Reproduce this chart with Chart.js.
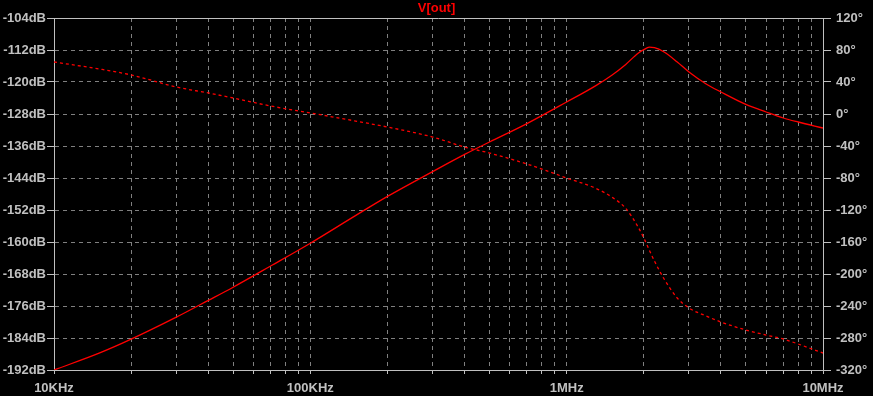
<!DOCTYPE html>
<html>
<head>
<meta charset="utf-8">
<script src="https://cdn.jsdelivr.net/npm/chart.js@4"></script>
<style>
  html, body { margin: 0; padding: 0; background: #000; }
  #wrap { width: 873px; height: 396px; }
</style>
</head>
<body>
<div id="wrap"><canvas id="bode"></canvas></div>
<script>
// Frequency points (Hz)
const freqs = [1e4, 1.5e4, 2e4, 3e4, 4e4, 5e4, 7e4, 1e5, 1.5e5, 2e5, 3e5, 4e5, 5e5, 7e5,
    1e6, 1.3e6, 1.5e6, 1.7e6, 1.9e6, 2e6, 2.1e6, 2.2e6, 2.4e6, 2.7e6, 3e6, 3.5e6, 4e6,
    5e6, 6e6, 7e6, 8e6, 1e7];

// Magnitude of V(out) in dB (solid line, left axis)
const magDb = [-192, -187.8, -184.3, -178.8, -174.6, -171.3, -166, -160.3, -153.4, -148.6,
    -142.4, -138.1, -135, -130.4, -125, -120.9, -118.3, -115.6, -112.8, -111.9, -111.3,
    -111.4, -112.5, -115, -117.5, -120.5, -122.5, -125.6, -127.5, -129, -130, -131.5];

// Phase of V(out) in degrees (dashed line, right axis)
const phaseDeg = [65, 56.3, 48.8, 33.8, 26.3, 20, 10, 1.3, -8.8, -16.3, -28.8, -41.3, -48.8,
    -62.5, -80, -93, -103.8, -118, -141.3, -155, -170, -183.8, -206.3, -230, -242.5,
    -252.5, -260, -270, -276.3, -281.3, -287.5, -298.8];

// Axis labels
const decades = [1e4, 1e5, 1e6, 1e7];
const decadeLabels = ['10KHz', '100KHz', '1MHz', '10MHz'];
const dbRange = [-192, -104];
const degRange = [-320, 120];

const GRID = '#808080';
const AXIS = '#c0c0c0';
const RED = '#ff0000';

Chart.defaults.font.family = '"Liberation Sans", Arial, sans-serif';
Chart.defaults.font.size = 13;
Chart.defaults.font.weight = 'bold';
Chart.defaults.color = AXIS;

// Log grid: 1..9 x each decade
const xTicks = [];
for (let d = 0; d < decades.length - 1; d++) {
    for (let m = 1; m < 10; m++) xTicks.push(decades[d] * m);
}
xTicks.push(decades[decades.length - 1]);

// top edge of the plot frame
const frame = {
    id: 'frame',
    beforeDatasetsDraw(chart) {
        const { ctx, chartArea: a } = chart;
        ctx.save();
        ctx.strokeStyle = AXIS;
        ctx.lineWidth = 1;
        ctx.beginPath();
        ctx.moveTo(a.left, a.top + 0.5);
        ctx.lineTo(a.right, a.top + 0.5);
        ctx.stroke();
        ctx.restore();
    }
};

new Chart(document.getElementById('bode'), {
    type: 'line',
    data: {
        datasets: [{
            label: 'V(out) magnitude',
            data: freqs.map((f, i) => ({ x: f, y: magDb[i] })),
            yAxisID: 'y',
            borderColor: RED,
            borderWidth: 1.3,
            pointRadius: 0,
            cubicInterpolationMode: 'monotone'
        }, {
            label: 'V(out) phase',
            data: freqs.map((f, i) => ({ x: f, y: phaseDeg[i] })),
            yAxisID: 'y1',
            borderColor: RED,
            borderWidth: 1.3,
            borderDash: [3, 3],
            pointRadius: 0,
            cubicInterpolationMode: 'monotone'
        }]
    },
    options: {
        responsive: true,
        maintainAspectRatio: false,
        animation: false,
        layout: { padding: 0 },
        plugins: {
            legend: { display: false },
            tooltip: { enabled: false },
            title: {
                display: true,
                text: 'V[out]',
                color: RED,
                font: { size: 13, weight: 'bold', lineHeight: 1.2 },
                padding: { top: 1, bottom: 1.4 }
            }
        },
        scales: {
            x: {
                type: 'logarithmic',
                min: decades[0],
                max: decades[decades.length - 1],
                afterBuildTicks: (scale) => { scale.ticks = xTicks.map(v => ({ value: v })); },
                afterFit: (scale) => { scale.height = 26; },
                ticks: {
                    autoSkip: false,
                    maxRotation: 0,
                    padding: 7,
                    color: AXIS,
                    callback: (v) => {
                        const i = decades.indexOf(v);
                        return i >= 0 ? decadeLabels[i] : '';
                    }
                },
                grid: { color: GRID, tickColor: AXIS, tickLength: 4, tickBorderDash: [] },
                border: { color: AXIS, dash: [4, 4] }
            },
            y: {
                position: 'left',
                min: dbRange[0],
                max: dbRange[1],
                afterFit: (scale) => { scale.width = 54; },
                ticks: { stepSize: 8, padding: 1, color: AXIS, callback: v => v + 'dB' },
                grid: { color: GRID, tickColor: AXIS, tickLength: 7, tickBorderDash: [] },
                border: { color: AXIS, dash: [4, 4] }
            },
            y1: {
                position: 'right',
                min: degRange[0],
                max: degRange[1],
                afterFit: (scale) => { scale.width = 50; },
                ticks: { stepSize: 40, padding: 5, color: AXIS, callback: v => v + '°' },
                grid: { drawOnChartArea: false, tickColor: AXIS, tickLength: 8 },
                border: { color: AXIS }
            }
        }
    },
    plugins: [frame]
});
</script>
</body>
</html>
